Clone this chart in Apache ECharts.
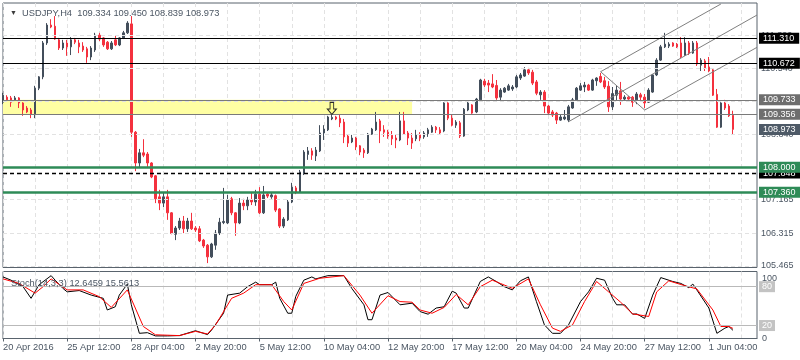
<!DOCTYPE html>
<html><head><meta charset="utf-8">
<script src="https://cdn.jsdelivr.net/npm/echarts@6/dist/echarts.min.js"></script>
<style>html,body{margin:0;padding:0;background:#fff}#c{width:800px;height:360px}</style>
</head><body><div id="c"></div>
<script>
// ---- data ----
const barCount = 189;
const bars = Array.from({length: barCount}, (_, i) => 'b' + i);
const xTickLabels = ['20 Apr 2016','25 Apr 12:00','28 Apr 04:00','2 May 20:00','5 May 12:00','10 May 04:00','12 May 20:00','17 May 12:00','20 May 04:00','24 May 20:00','27 May 12:00','1 Jun 04:00'];

const open = [109.67,109.80,109.78,109.73,109.78,109.65,109.52,109.47,109.37,110.03,
110.32,111.19,111.65,111.62,111.27,111.06,111.19,111.09,111.27,111.19,
111.11,111.04,110.83,111.01,111.39,111.32,111.21,111.04,111.27,111.14,
111.32,111.45,111.68,108.90,108.11,108.37,108.34,108.11,107.78,107.24,
107.08,107.24,106.83,106.28,106.44,106.62,106.42,106.62,106.44,106.42,
106.13,106.00,105.70,106.00,106.31,106.58,106.57,107.19,106.83,106.57,
107.08,107.01,107.16,107.11,107.31,106.83,107.31,107.24,107.27,106.93,
106.49,106.65,107.11,107.47,107.36,107.85,108.33,108.42,108.29,108.42,
108.88,108.96,109.24,109.29,109.26,109.16,108.80,108.65,108.75,108.55,
108.44,108.37,108.85,108.96,109.19,108.96,108.90,108.82,108.75,108.70,
109.19,108.88,108.75,108.73,108.83,108.78,108.86,108.90,109.03,108.96,
108.93,109.65,109.26,109.08,109.14,108.80,109.47,109.60,109.42,109.73,
110.21,110.16,110.14,110.10,109.80,109.93,109.98,110.01,110.06,110.29,
110.34,110.50,110.44,110.19,109.86,109.93,109.57,109.42,109.39,109.21,
109.24,109.21,109.52,109.73,109.98,110.06,110.11,109.98,110.22,110.33,
110.22,110.08,109.55,109.85,109.96,109.75,109.80,109.80,109.73,109.86,
109.80,109.67,109.93,110.37,110.75,111.09,111.11,111.19,111.16,111.19,
110.88,111.19,110.93,111.19,110.62,110.73,110.57,110.50,109.87,109.03,
109.65,109.57,109.334];
const close = [109.85,109.73,109.67,109.78,109.65,109.47,109.42,109.37,110.03,110.32,
111.19,111.65,111.60,111.29,111.06,111.19,111.09,111.27,111.21,111.09,
111.01,110.83,111.06,111.39,111.29,111.14,111.04,111.19,111.14,111.32,
111.45,111.70,108.90,108.11,108.37,108.31,108.11,107.75,107.19,107.08,
107.24,106.83,106.30,106.44,106.62,106.42,106.62,106.42,106.39,106.11,
105.98,105.70,106.03,106.31,106.59,106.61,107.16,106.83,106.57,107.08,
107.01,107.16,107.11,107.31,106.83,107.29,107.26,107.29,106.90,106.49,
106.67,107.11,107.49,107.36,107.88,108.39,108.42,108.31,108.44,108.88,
108.98,109.29,109.28,109.24,109.14,108.78,108.62,108.75,108.52,108.39,
108.37,108.85,108.98,109.16,108.93,108.90,108.80,108.73,108.70,109.19,
108.85,108.75,108.62,108.83,108.75,108.88,108.96,109.03,108.96,108.88,
109.65,109.26,109.08,109.16,108.80,109.49,109.65,109.39,109.75,110.24,
110.11,110.11,110.06,109.78,109.98,110.03,110.09,110.06,110.32,110.37,
110.50,110.42,110.16,109.90,109.93,109.57,109.39,109.34,109.21,109.29,
109.29,109.55,109.73,110.03,110.09,110.11,109.98,110.24,110.29,110.19,
110.06,109.55,109.89,109.98,109.75,109.80,109.75,109.67,109.88,109.80,
109.65,109.98,110.37,110.75,111.09,111.16,111.16,111.11,111.09,110.83,
111.19,110.93,111.19,110.65,110.75,110.55,110.47,109.85,109.03,109.65,
109.52,109.32,108.973];
const low = [109.62,109.70,109.55,109.70,109.52,109.32,109.39,109.26,109.26,109.98,
110.26,111.14,111.57,111.27,111.01,111.01,110.86,110.88,111.16,110.93,
110.96,110.68,110.75,110.96,111.24,111.09,111.01,111.01,111.11,111.11,
111.29,111.42,108.78,107.90,107.98,108.26,108.01,107.72,107.08,106.90,
106.98,106.65,106.28,106.13,106.39,106.31,106.34,106.39,106.34,106.08,
105.93,105.54,105.67,105.88,106.26,106.54,106.54,106.77,106.24,106.54,
106.90,106.90,107.03,107.01,106.80,106.80,107.21,107.19,106.85,106.44,
106.44,106.62,107.08,107.31,107.34,107.80,108.19,108.19,108.16,108.39,
108.70,108.93,109.21,109.21,109.03,108.62,108.52,108.62,108.44,108.31,
108.24,108.34,108.83,108.93,108.62,108.78,108.73,108.57,108.49,108.67,
108.83,108.57,108.47,108.67,108.67,108.73,108.78,108.88,108.88,108.85,
108.90,109.21,109.05,109.01,108.75,108.78,109.44,109.37,109.39,109.70,
110.06,109.93,110.03,109.73,109.70,109.91,109.96,109.96,110.03,110.24,
110.32,110.37,110.11,109.85,109.73,109.39,109.34,109.29,109.11,109.19,
109.21,109.16,109.50,109.70,109.96,109.93,109.96,109.96,110.09,110.16,
110.01,109.42,109.47,109.70,109.60,109.70,109.73,109.55,109.62,109.70,
109.52,109.65,109.91,110.34,110.73,111.06,111.06,111.09,111.06,110.80,
110.86,110.88,110.91,110.60,110.47,110.47,110.44,109.83,109.01,109.01,
109.47,109.29,108.839];
const high = [109.91,109.85,109.83,109.83,109.80,109.67,109.57,109.52,110.09,110.34,
111.24,111.70,111.80,111.88,111.32,111.27,111.27,111.34,111.32,111.27,
111.21,111.09,111.11,111.45,111.45,111.34,111.24,111.24,111.39,111.34,
111.50,111.75,111.88,108.93,108.47,108.72,108.39,108.13,107.80,107.42,
107.36,107.42,106.85,106.49,106.70,106.75,106.70,106.83,106.49,106.49,
106.16,106.03,106.06,106.39,106.70,107.47,107.29,107.24,106.85,107.21,
107.19,107.24,107.34,107.42,107.49,107.52,107.36,107.34,107.30,106.95,
106.72,107.16,107.60,107.52,107.93,108.44,108.52,108.49,108.52,109.08,
109.08,109.32,109.34,109.32,109.34,109.24,108.83,108.83,108.78,108.57,
108.49,108.88,109.01,109.42,109.24,109.08,108.96,108.93,108.85,109.42,
109.42,108.93,108.88,108.96,108.90,108.93,109.01,109.08,109.06,109.03,
109.67,109.67,109.34,109.21,109.19,109.52,109.70,109.62,109.78,110.27,
110.27,110.24,110.39,110.24,110.03,110.06,110.14,110.11,110.37,110.42,
110.57,110.55,110.50,110.24,109.98,109.98,109.60,109.47,109.42,109.34,
109.47,109.60,109.78,110.06,110.16,110.19,110.14,110.27,110.31,110.42,
110.32,110.21,110.06,110.09,110.19,109.85,109.83,109.83,109.93,109.91,
109.88,110.03,110.39,110.80,111.14,111.45,111.21,111.21,111.19,111.34,
111.34,111.24,111.24,111.24,110.80,110.78,110.83,110.52,110.01,109.67,
109.73,109.62,109.450];

// Stochastic (bar index, value)
const stochK = [[0,95],[2,90],[5,80],[7,62],[9,83],[12,97],[13,90],[15,77],[16,72],[19,74],[22,67],[25,62],[26,44],[28,49],[29,67],[31,84],[32,52],[34,8],[36,9],[38,4],[41,4],[44,4.5],[48,12],[51,6],[52,13],[55,39],[56,67],[59,70],[61,80],[63,87],[64,83],[67,83],[68,87],[69,62],[71,39],[72,39],[73,65],[75,90],[77,95],[78,92],[81,97],[85,97],[87,77],[90,52],[91,29],[92,29],[94,67],[96,71],[99,52],[102,54.5],[104,41.5],[106,37.5],[108,47],[110,49],[112,73],[113,70],[115,47],[116,47],[119,88],[121,95],[123,88],[125,80],[127,75],[129,89],[131,95],[133,57],[135,21],[137,8],[139,8],[141,21],[144,57],[146,72],[148,93],[150,90],[152,62],[153,52],[155,52],[157,37.5],[158,38],[160,31],[162,67],[164,94],[167,88],[169,85],[171,78.5],[172,84],[173,75],[176,47],[178,8],[180,16],[181,18.5],[182,12.6459]];
const stochD = [[0,92],[4,85],[8,70],[10,80],[12,92],[16,75],[20,75],[24,64.6],[27,48],[31,75],[35,18.5],[38,5.7],[44,4.5],[48,11],[51,7],[53,21],[57,62],[60,70],[63,83],[67,83],[70,57],[72,44],[75,85],[79,93],[85,97],[89,67],[92,39],[96,66],[99,57],[102,56],[104,44],[107,39],[110,48],[113,68],[116,52],[119,80],[122,90],[124,85],[127,77.5],[131,92],[134,52],[137,16],[139,11],[142,21],[145,57],[148,88],[151,72],[154,56],[157,38],[161,34],[163,72],[166,89],[170,81.5],[173,76.5],[177,44],[179,18.5],[181,18.5],[182,15.5613]];
const stochLevels = [80, 20];
const stochTop = 100, stochBottom = 0;

const priceTicks = [105.465,106.315,107.165,107.990,108.840,109.690,110.540,111.390];
const levelValues = [111.310,110.672,109.733,109.356,107.848,108.000,107.360];
const zoneTop = 109.733, zoneBottom = 109.356, zoneEndBar = 102;
const channelLines = [
  [[149,110.452],[179,112.190]],
  [[141,109.169],[188,111.907]],
  [[160,109.469],[188,111.078]],
  [[149,110.452],[160,109.469]]
];
const arrowBar = 82, arrowPrice = 109.51;
const headerText = 'USDJPY,H4  109.334 109.450 108.839 108.973';
const stochText = 'Stoch(14,3,3) 12.6459 15.5613';

// ---- styles ----
const FONT = '"Liberation Sans",Arial,sans-serif';
const FS = 9.3, FSP = 9;
const TXT = '#4b5663', FRAME = '#59636d', GRIDC = '#e2e2e2';
const BULL = '#434e5b', BEAR = '#f4313e';
const NOLINE = {color:'rgba(0,0,0,0)', width:0};
const levelStyle = [
  {line:{color:'#000',width:1,type:'solid'}, bg:'#000', fg:'#fff'},
  {line:{color:'#000',width:1,type:'solid'}, bg:'#000', fg:'#fff'},
  {line:{color:'#7a7a7a',width:1,type:'solid'}, bg:'#6e6e6e', fg:'#fff'},
  {line:{color:'#7a7a7a',width:1,type:'solid'}, bg:'#6e6e6e', fg:'#fff'},
  {line:{color:'#000',width:1.3,type:[4,3]}, bg:'#000', fg:'#fff'},
  {line:{color:'#2e8b57',width:2.6,type:'solid'}, bg:'#2e8b57', fg:'#fff'},
  {line:{color:'#2e8b57',width:2.6,type:'solid'}, bg:'#2e8b57', fg:'#fff'}
];
function boxLabel(text, bg, fg) {
  return {show:true, position:'end', distance:2, formatter:text, backgroundColor:bg, color:fg,
    padding:[1,5,0,4], lineHeight:10, fontFamily:FONT, fontSize:FSP};
}

const candleData = open.map((o, i) => [o, close[i], low[i], high[i]]);
const lastPrice = close[close.length - 1];

const levelItems = levelValues.map((v, k) => ({
  yAxis: v, lineStyle: levelStyle[k].line, label: boxLabel(v.toFixed(3), levelStyle[k].bg, levelStyle[k].fg)
}));
levelItems.splice(4, 0, {yAxis: lastPrice, lineStyle: NOLINE, label: boxLabel(lastPrice.toFixed(3), '#4e5a67', '#fff')});
const channelItems = channelLines.map(seg => [
  {coord:[bars[seg[0][0]], seg[0][1]]}, {coord:[bars[seg[1][0]], seg[1][1]]}
]);

const chart = echarts.init(document.getElementById('c'), null, {renderer:'canvas'});
chart.setOption({
  animation:false,
  backgroundColor:'#fff',
  title:[
    {left:5, top:4, text:'{t|▼}  ' + headerText,
     textStyle:{fontFamily:FONT, fontSize:FS, fontWeight:'normal', color:TXT, rich:{t:{fontSize:7, color:'#3a3a3a'}}}},
    {left:6, top:274, text:stochText,
     textStyle:{fontFamily:FONT, fontSize:FS, fontWeight:'normal', color:TXT}}
  ],
  grid:[
    {left:3, top:3, width:754, height:264.5, show:true, borderColor:FRAME, borderWidth:1},
    {left:3, top:271.5, width:754, height:67, show:true, borderColor:FRAME, borderWidth:1}
  ],
  xAxis:[
    {type:'category', gridIndex:0, data:bars, boundaryGap:false,
     axisLine:{show:false}, axisTick:{show:false}, axisLabel:{show:false},
     splitLine:{show:true, interval:(i) => i % 8 === 0, lineStyle:{color:GRIDC, type:[4,3]}}},
    {type:'category', gridIndex:1, data:bars, boundaryGap:false,
     axisLine:{show:true, lineStyle:{color:FRAME}},
     axisTick:{show:true, interval:(i) => i % 16 === 0, length:3, lineStyle:{color:FRAME}},
     axisLabel:{show:true, interval:(i) => i % 16 === 0, formatter:(v, i) => xTickLabels[i / 16] || '',
       align:'left', margin:4, color:TXT, fontFamily:FONT, fontSize:FS},
     splitLine:{show:true, interval:(i) => i % 8 === 0, lineStyle:{color:GRIDC, type:[4,3]}}}
  ],
  yAxis:[
    {type:'value', gridIndex:0, min:105.427, max:112.216, show:false},
    {type:'value', gridIndex:1, min:0, max:103.4, position:'right',
     axisLine:{show:false}, axisTick:{show:false}, splitLine:{show:false},
     axisLabel:{show:true, customValues:[stochTop], margin:5, color:TXT, fontFamily:FONT, fontSize:FSP,
       verticalAlign:'top', formatter:(v) => String(Math.round(v))}}
  ],
  series:[
    {type:'line', xAxisIndex:0, yAxisIndex:0, data:[], z:1, silent:true,
     markArea:{silent:true, itemStyle:{color:'#ffffa3'},
       data:[[{coord:[bars[0], zoneTop]}, {coord:[bars[zoneEndBar], zoneBottom]}]]},
     markLine:{silent:true, symbol:'none', animation:false,
       lineStyle:{color:GRIDC, type:[4,3], width:1},
       data:priceTicks.map(v => ({yAxis:v,
         label:{show:true, position:'end', distance:4, color:TXT, fontFamily:FONT, fontSize:FSP, formatter:v.toFixed(3)}}))}},
    {type:'line', xAxisIndex:0, yAxisIndex:0, data:[], z:1, silent:true,
     markLine:{silent:true, symbol:'none', animation:false,
       lineStyle:{color:'#808080', width:1, type:'solid'}, label:{show:false}, data:channelItems}},
    {type:'candlestick', xAxisIndex:0, yAxisIndex:0, data:candleData, barWidth:2, z:2, silent:true,
     itemStyle:{color:BULL, color0:BEAR, borderColor:BULL, borderColor0:BEAR, borderWidth:1}},
    {type:'line', xAxisIndex:0, yAxisIndex:0, data:[], z:3, silent:true,
     markLine:{silent:true, symbol:'none', animation:false, data:levelItems}},
    {type:'line', xAxisIndex:0, yAxisIndex:0, data:[], z:4, silent:true,
     markPoint:{silent:true, symbol:'path://M3,0 L7,0 L7,6 L10,6 L5,11 L0,6 L3,6 Z', symbolSize:[9,12],
       itemStyle:{color:'#ffff8c', borderColor:'#2a2a2a', borderWidth:1}, label:{show:false},
       data:[{coord:[bars[arrowBar], arrowPrice]}]}},
    {type:'line', xAxisIndex:1, yAxisIndex:1, data:[], z:1, silent:true,
     markLine:{silent:true, symbol:'none', animation:false,
       data: stochLevels.map(v => ({yAxis:v, lineStyle:{color:'#b9b9b9', width:1, type:'solid'},
           label:{show:true, position:'end', distance:2, formatter:String(v), backgroundColor:'#c3c3c3',
             color:'#fff', padding:[1,3,0,3], lineHeight:10, fontFamily:FONT, fontSize:FSP}}))
         .concat([{yAxis:stochBottom, lineStyle:NOLINE,
           label:{show:true, position:'end', distance:5, formatter:String(stochBottom), color:TXT,
             padding:[0,0,12,0], lineHeight:10, fontFamily:FONT, fontSize:FSP}}])}},
    {type:'line', xAxisIndex:1, yAxisIndex:1, data:stochK, symbol:'none', z:2, silent:true,
     lineStyle:{color:'#000', width:1}},
    {type:'line', xAxisIndex:1, yAxisIndex:1, data:stochD, symbol:'none', z:3, silent:true,
     lineStyle:{color:'#ff0000', width:1}}
  ]
});
</script>
</body></html>
